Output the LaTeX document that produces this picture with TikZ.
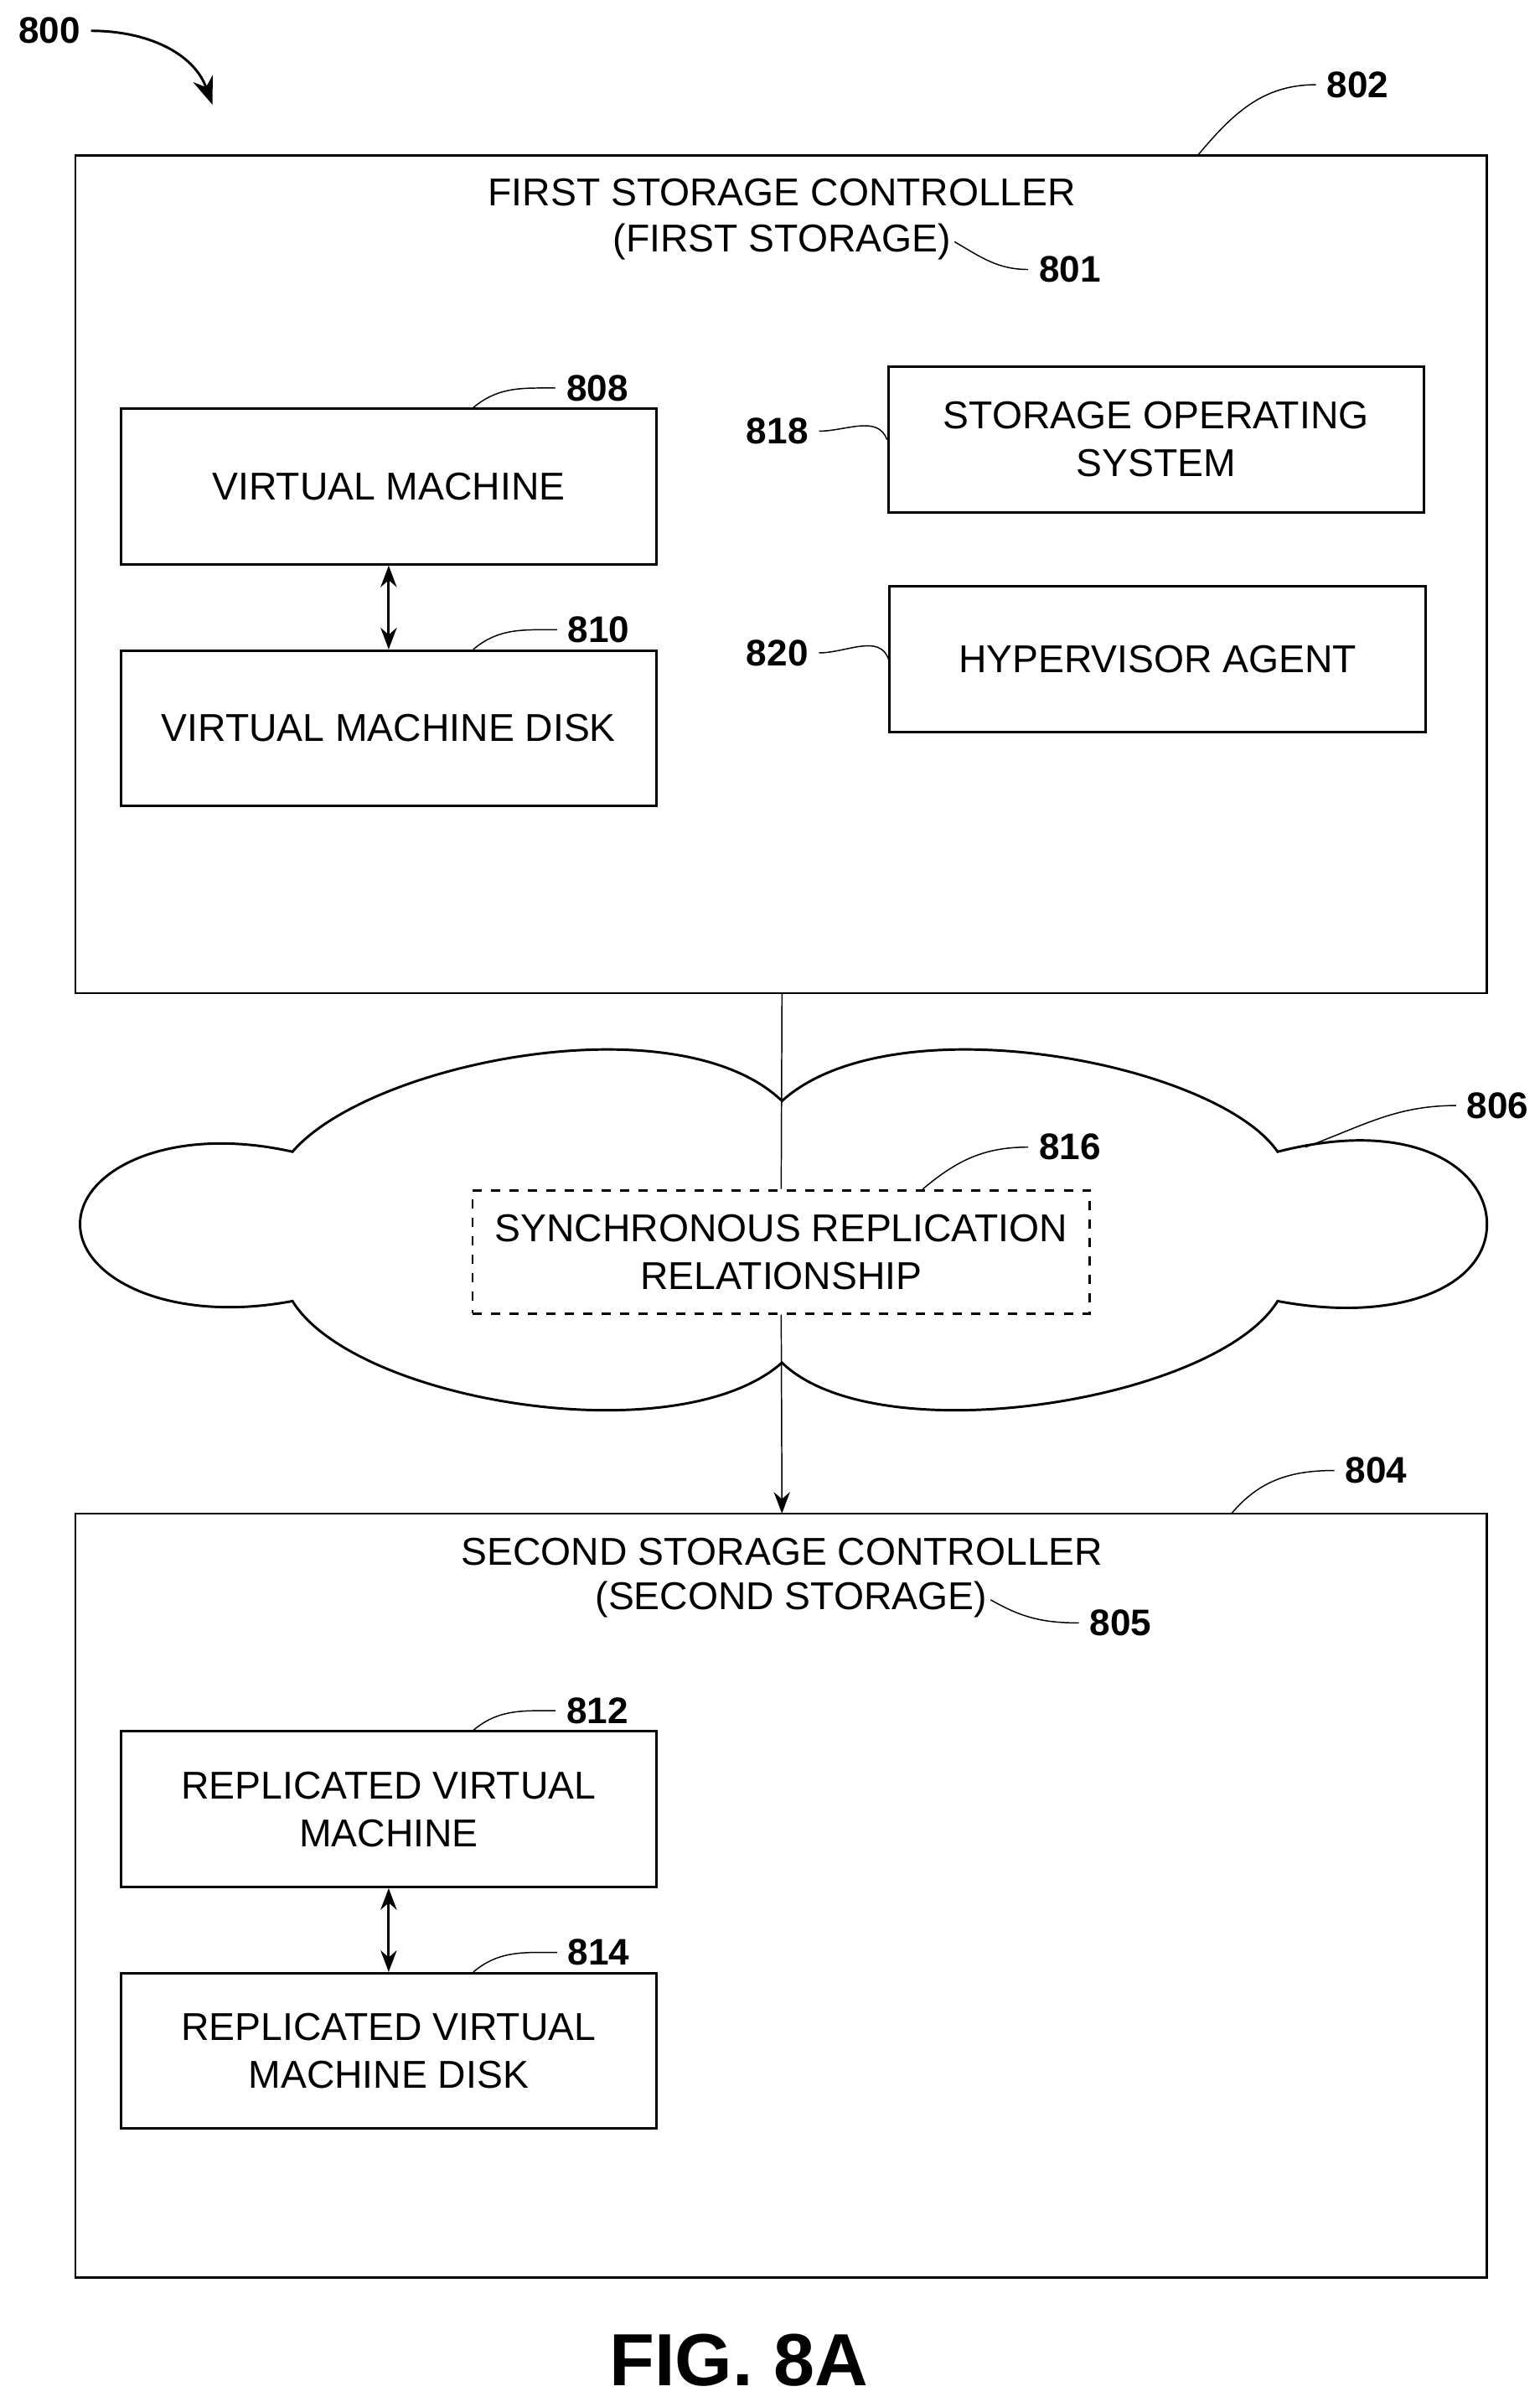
\documentclass[tikz,border=0pt]{standalone}
\usepackage{fontspec}
\setmainfont{Liberation Sans}
\usetikzlibrary{arrows.meta}
\tikzset{
  box/.style={draw, thick, minimum width=174pt, minimum height=50.5pt, align=center, inner sep=0pt},
  txt/.style={font=\fontsize{12.6}{15.5}\selectfont, align=center},
  num/.style={font=\bfseries\fontsize{12}{13}\selectfont},
  lead/.style={thin},
}
\begin{document}
\begin{tikzpicture}[x=0.5pt, y=-0.5pt]
  \useasboundingbox (0,0) rectangle (1000,1560);
  % first storage controller
  \draw[thick] (49,101) rectangle (966,645);
  \node[txt] (t1) at (508,125) {FIRST STORAGE CONTROLLER};
  \node[txt, inner sep=1pt] (t1b) at (508,157) {(FIRST STORAGE)};
  \node[num] (n801) at (695,175) {801};
  \draw[lead] (t1b.east) to[out=-30, in=180] (n801.west);
  \node[num] (n802) at (882,55) {802};
  \coordinate (c802) at (778,101);
  \draw[lead] (c802) to[out=50, in=180] (n802.west);
  \node[num] (n800) at (32,20) {800};
  \coordinate (c800) at (138,68);
  \draw[-{Stealth[length=9pt]}, thick] (n800.east) to[out=0, in=110] (c800);
  % inner boxes
  \node[box, txt] (vm) at (252.5,316) {VIRTUAL MACHINE};
  \node[box, txt] (vmd) at (252.5,473) {VIRTUAL MACHINE DISK};
  \draw[{Stealth[length=7pt]}-{Stealth[length=7pt]}, thick] (vm) -- (vmd);
  \node[num] (n808) at (388,252) {808};
  \draw[lead] (vm.north) ++(55,0) to[out=40, in=180] (n808.west);
  \node[num] (n810) at (389,409) {810};
  \draw[lead] (vmd.north) ++(55,0) to[out=40, in=180] (n810.west);
  \node[box, txt, minimum height=47.5pt] (sos) at (751,285.5) {STORAGE OPERATING\\SYSTEM};
  \node[box, txt, minimum height=47.5pt] (ha) at (752,428) {HYPERVISOR AGENT};
  \node[num] (n818) at (505,280) {818};
  \draw[lead] (n818.east) to[out=0, in=110] (sos.west);
  \node[num] (n820) at (505,424) {820};
  \draw[lead] (n820.east) to[out=0, in=110] (ha.west);
  % network cloud
  \draw[thick] (190,748) .. controls (240,690) and (440,650) .. (508,715)
    .. controls (580,650) and (790,690) .. (830,748)
    .. controls (920,725) and (966,760) .. (966,795)
    .. controls (966,835) and (910,860) .. (830,845)
    .. controls (790,910) and (570,945) .. (508,885)
    .. controls (440,945) and (230,910) .. (190,845)
    .. controls (110,860) and (52,830) .. (52,795)
    .. controls (52,760) and (110,730) .. (190,748) -- cycle;
  \coordinate (c806) at (848,745);
  \node[num] (n806) at (973,718) {806};
  \draw[lead] (c806) to[out=20, in=180] (n806.west);
  \node[draw, thick, dashed, txt, minimum width=200.5pt, minimum height=40pt] (rep) at (507.5,813) {SYNCHRONOUS REPLICATION\\RELATIONSHIP};
  \node[num] (n816) at (695,745) {816};
  \draw[lead] (rep.north) ++(92,0) to[out=40, in=180] (n816.west);
  \coordinate (top) at (508,645);
  \coordinate (bot) at (508,983);
  \draw (top) -- (rep.north);
  \draw[-{Stealth[length=7pt]}] (rep.south) -- (bot);
  % second storage controller
  \draw[thick] (49,983) rectangle (966,1479);
  \node[txt] (t2) at (508,1008) {SECOND STORAGE CONTROLLER};
  \node[txt, inner sep=1pt] (t2b) at (514,1039) {(SECOND STORAGE)};
  \node[num] (n805) at (728,1054) {805};
  \draw[lead] (t2b.east) to[out=-30, in=180] (n805.west);
  \node[num] (n804) at (894,955) {804};
  \coordinate (c804) at (800,983);
  \draw[lead] (c804) to[out=50, in=180] (n804.west);
  \node[box, txt] (rvm) at (252.5,1175) {REPLICATED VIRTUAL\\MACHINE};
  \node[box, txt] (rvmd) at (252.5,1332) {REPLICATED VIRTUAL\\MACHINE DISK};
  \draw[{Stealth[length=7pt]}-{Stealth[length=7pt]}, thick] (rvm) -- (rvmd);
  \node[num] (n812) at (388,1111) {812};
  \draw[lead] (rvm.north) ++(55,0) to[out=40, in=180] (n812.west);
  \node[num] (n814) at (389,1268) {814};
  \draw[lead] (rvmd.north) ++(55,0) to[out=40, in=180] (n814.west);
  % caption
  \node[font=\bfseries\fontsize{24}{28}\selectfont] (fig) at (480,1533) {FIG. 8A};
\end{tikzpicture}
\end{document}
